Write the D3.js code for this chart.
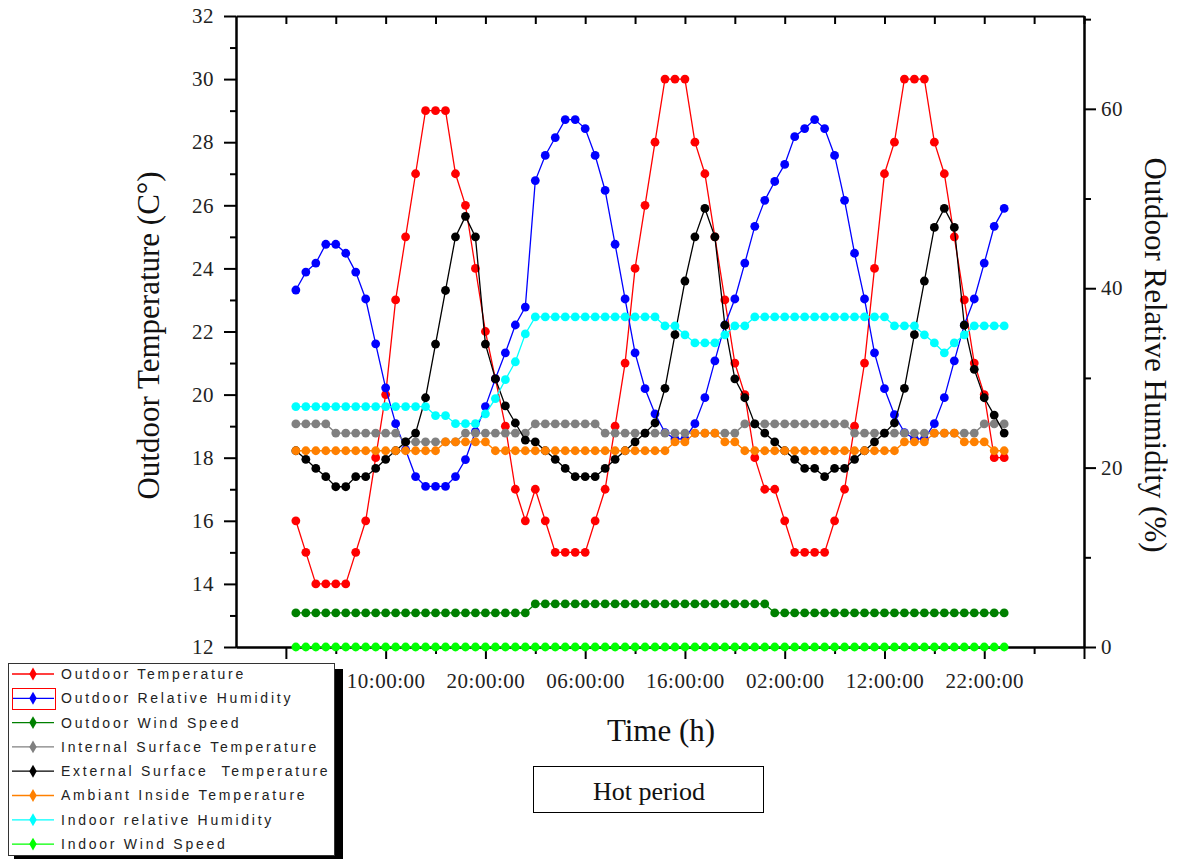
<!DOCTYPE html>
<html>
<head>
<meta charset="utf-8">
<script src="https://cdnjs.cloudflare.com/ajax/libs/d3/7.8.5/d3.min.js"></script>
<style>
  body { margin: 0; background: #fff; }
  .axis path, .axis line { stroke: #000; stroke-width: 2; }
  .axis text { font-family: "Liberation Serif", "Times New Roman", serif; font-size: 21px; letter-spacing: 0.5px; fill: #222; }
</style>
</head>
<body>
<svg width="1177" height="859"></svg>
<script>
// hourly readings, hour 1 .. 72
var hours = [1,2,3,4,5,6,7,8,9,10,11,12,13,14,15,16,17,18,19,20,21,22,23,24,
  25,26,27,28,29,30,31,32,33,34,35,36,37,38,39,40,41,42,43,44,45,46,47,48,
  49,50,51,52,53,54,55,56,57,58,59,60,61,62,63,64,65,66,67,68,69,70,71,72];

var outdoorTemp = [16,15,14,14,14,14,15,16,18,20,23,25,
  27,29,29,29,27,26,24,22,20.5,19,17,16,
  17,16,15,15,15,15,16,17,19,21,24,26,
  28,30,30,30,28,27,25,23,21,20,18,17,
  17,16,15,15,15,15,16,17,19,21,24,27,
  28,30,30,30,28,27,25,23,21,20,18,18];

var outdoorRH = [39.8,41.8,42.8,44.9,44.9,43.9,41.8,38.8,33.8,28.9,24.9,22.0,
  19.0,17.9,17.9,17.9,19.0,20.9,24.0,26.8,29.9,32.8,35.9,37.9,
  52.0,54.8,56.8,58.8,58.8,57.8,54.8,50.9,44.9,38.8,32.8,28.8,
  26.0,23.9,23.2,23.2,24.9,27.8,31.9,35.9,38.8,42.8,46.9,49.8,
  51.9,53.8,56.9,57.8,58.8,57.8,54.8,49.8,43.9,38.8,32.8,28.8,
  25.9,23.9,23.2,23.2,24.9,27.8,31.9,35.9,38.8,42.8,46.9,48.9];

var outdoorWind = [3.8,3.8,3.8,3.8,3.8,3.8,3.8,3.8,3.8,3.8,3.8,3.8,
  3.8,3.8,3.8,3.8,3.8,3.8,3.8,3.8,3.8,3.8,3.8,3.8,
  4.8,4.8,4.8,4.8,4.8,4.8,4.8,4.8,4.8,4.8,4.8,4.8,
  4.8,4.8,4.8,4.8,4.8,4.8,4.8,4.8,4.8,4.8,4.8,4.8,
  3.8,3.8,3.8,3.8,3.8,3.8,3.8,3.8,3.8,3.8,3.8,3.8,
  3.8,3.8,3.8,3.8,3.8,3.8,3.8,3.8,3.8,3.8,3.8,3.8];

var internalSurf = [19.07,19.07,19.07,19.07,18.78,18.78,18.78,18.78,18.78,18.78,18.78,18.5,
  18.5,18.5,18.5,18.5,18.5,18.78,18.78,18.78,18.78,18.78,18.78,18.78,
  19.07,19.07,19.07,19.07,19.07,19.07,19.07,18.78,18.78,18.78,18.78,18.78,
  18.78,18.78,18.78,18.78,18.78,18.78,18.78,18.78,18.78,19.07,19.07,19.07,
  19.07,19.07,19.07,19.07,19.07,19.07,19.07,19.07,18.78,18.78,18.78,18.78,
  18.78,18.78,18.78,18.78,18.78,18.78,18.78,18.78,18.78,19.07,19.07,19.07];

var externalSurf = [18.22,17.95,17.66,17.4,17.08,17.08,17.4,17.4,17.66,17.95,18.22,18.5,
  18.78,19.9,21.6,23.3,25.0,25.65,25.0,21.6,20.5,19.64,19.1,18.56,
  18.5,18.22,17.95,17.66,17.4,17.4,17.4,17.66,17.95,18.22,18.5,18.78,
  19.1,20.2,21.9,23.6,25.0,25.9,25.0,22.2,20.5,19.9,19.07,18.78,
  18.5,18.22,17.95,17.66,17.66,17.4,17.66,17.66,17.95,18.22,18.5,18.78,
  19.1,20.2,21.9,23.6,25.3,25.9,25.3,22.2,20.8,19.9,19.35,18.78];

var ambientInside = [18.22,18.22,18.22,18.22,18.22,18.22,18.22,18.22,18.22,18.22,18.22,18.22,
  18.22,18.22,18.22,18.5,18.5,18.5,18.5,18.5,18.22,18.22,18.22,18.22,
  18.22,18.22,18.22,18.22,18.22,18.22,18.22,18.22,18.22,18.22,18.22,18.22,
  18.22,18.22,18.5,18.5,18.78,18.78,18.78,18.5,18.5,18.22,18.22,18.22,
  18.22,18.22,18.22,18.22,18.22,18.22,18.22,18.22,18.22,18.22,18.22,18.22,
  18.22,18.5,18.5,18.5,18.78,18.78,18.78,18.5,18.5,18.5,18.22,18.22];

var indoorRH = [26.8,26.8,26.8,26.8,26.8,26.8,26.8,26.8,26.8,26.8,26.8,26.8,
  26.8,26.8,25.8,25.8,24.9,24.9,24.9,26.0,27.7,29.8,31.8,34.9,
  36.8,36.8,36.8,36.8,36.8,36.8,36.8,36.8,36.8,36.8,36.8,36.8,
  36.8,35.8,35.8,34.8,33.9,33.9,33.9,34.8,35.8,35.8,36.8,36.8,
  36.8,36.8,36.8,36.8,36.8,36.8,36.8,36.8,36.8,36.8,36.8,36.8,
  35.8,35.8,35.8,34.8,33.9,32.8,33.9,34.8,35.8,35.8,35.8,35.8];

var indoorWind = [0,0,0,0,0,0,0,0,0,0,0,0, 0,0,0,0,0,0,0,0,0,0,0,0,
  0,0,0,0,0,0,0,0,0,0,0,0, 0,0,0,0,0,0,0,0,0,0,0,0,
  0,0,0,0,0,0,0,0,0,0,0,0, 0,0,0,0,0,0,0,0,0,0,0,0];

var names = ["Outdoor Temperature", "Outdoor Relative Humidity", "Outdoor Wind Speed",
  "Internal Surface Temperature", "External Surface  Temperature", "Ambiant Inside Temperature",
  "Indoor relative Humidity", "Indoor Wind Speed"];
var colors = ["#ff0000", "#0000ff", "#008000", "#808080", "#000000", "#ff8000", "#00ffff", "#00ff00"];
var valueLists = [outdoorTemp, outdoorRH, outdoorWind, internalSurf, externalSurf, ambientInside, indoorRH, indoorWind];
var sides = ["left", "right", "right", "left", "left", "left", "right", "right"];

var leftTicks = [12,14,16,18,20,22,24,26,28,30,32];
var rightTicks = [0,20,40,60];
var timeTicks = [0,10,20,30,40,50,60,70,80];

var svg = d3.select("svg"),
    margin = {top: 16, right: 93, bottom: 212, left: 236},
    width = +svg.attr("width") - margin.left - margin.right,
    height = +svg.attr("height") - margin.top - margin.bottom,
    g = svg.append("g").attr("transform", "translate(" + margin.left + "," + margin.top + ")");

var x = d3.scaleLinear().domain([-5, 80]).range([0, width]);
var yL = d3.scaleLinear().domain([12, 32]).range([height, 0]);
var yR = d3.scaleLinear().domain([0, 70.35]).range([height, 0]);

function timeLabel(h) {
  if (h >= 80) return "";
  return d3.format("02")(h % 24) + ":00:00";
}
var minorTime = timeTicks.slice(0, -1).map(function(d) { return d + 5; });

// bottom axis
g.append("g").attr("class", "axis").attr("transform", "translate(0," + height + ")")
  .call(d3.axisBottom(x).tickValues(minorTime).tickSize(7).tickSizeOuter(0).tickFormat(""));
g.append("g").attr("class", "axis").attr("transform", "translate(0," + height + ")")
  .call(d3.axisBottom(x).tickValues(timeTicks).tickSize(12).tickSizeOuter(0).tickPadding(14).tickFormat(timeLabel));
// top axis, ticks inside
g.append("g").attr("class", "axis")
  .call(d3.axisTop(x).tickValues(timeTicks.concat(minorTime)).tickSize(-8).tickSizeOuter(0).tickFormat(""));
// left axis
g.append("g").attr("class", "axis")
  .call(d3.axisLeft(yL).tickValues(leftTicks.slice(0, -1).map(function(d) { return d + 1; })).tickSize(6).tickSizeOuter(0).tickFormat(""));
g.append("g").attr("class", "axis")
  .call(d3.axisLeft(yL).tickValues(leftTicks).tickSize(12).tickSizeOuter(0).tickPadding(10));
// right axis
g.append("g").attr("class", "axis").attr("transform", "translate(" + width + ",0)")
  .call(d3.axisRight(yR).tickValues([10,30,50,70]).tickSize(7).tickSizeOuter(0).tickFormat(""));
g.append("g").attr("class", "axis").attr("transform", "translate(" + width + ",0)")
  .call(d3.axisRight(yR).tickValues(rightTicks).tickSize(12).tickSizeOuter(0).tickPadding(5));

// series
valueLists.forEach(function(vals, i) {
  var yy = sides[i] == "left" ? yL : yR;
  var pts = hours.map(function(h, k) { return [h, vals[k]]; });
  var s = g.append("g");
  s.append("path")
    .datum(pts)
    .attr("fill", "none")
    .attr("stroke", colors[i])
    .attr("stroke-width", 1.3)
    .attr("d", d3.line().x(function(d) { return x(d[0]); }).y(function(d) { return yy(d[1]); }));
  s.selectAll("circle")
    .data(pts)
    .enter().append("circle")
      .attr("cx", function(d) { return x(d[0]); })
      .attr("cy", function(d) { return yy(d[1]); })
      .attr("r", 4.4)
      .attr("fill", colors[i]);
});

// axis titles
svg.append("text")
  .attr("transform", "translate(159," + (margin.top + height / 2 + 4) + ") rotate(-90)")
  .style("text-anchor", "middle")
  .style("font-family", "Liberation Serif, Times New Roman, serif")
  .style("font-size", "31px")
  .style("fill", "#111")
  .text("Outdoor Temperature (C°)");

svg.append("text")
  .attr("transform", "translate(1145," + 355 + ") rotate(90)")
  .style("text-anchor", "middle")
  .style("font-family", "Liberation Serif, Times New Roman, serif")
  .style("font-size", "31px")
  .style("fill", "#111")
  .text("Outdoor Relative Humidity (%)");

svg.append("text")
  .attr("x", 661).attr("y", 741)
  .style("text-anchor", "middle")
  .style("font-family", "Liberation Serif, Times New Roman, serif")
  .style("font-size", "31px")
  .style("fill", "#111")
  .text("Time (h)");

// caption box
svg.append("rect")
  .attr("x", 533.5).attr("y", 766.5).attr("width", 230).attr("height", 46)
  .attr("fill", "#fff").attr("stroke", "#000").attr("stroke-width", 1);
svg.append("text")
  .attr("x", 649).attr("y", 800)
  .style("text-anchor", "middle")
  .style("font-family", "Liberation Serif, Times New Roman, serif")
  .style("font-size", "26px")
  .style("fill", "#111")
  .text("Hot period");

// legend
var lg = svg.append("g");
lg.append("rect").attr("x", 14).attr("y", 669).attr("width", 329).attr("height", 195).attr("fill", "#000");
lg.append("rect").attr("x", 8.5).attr("y", 663.5).attr("width", 326).attr("height", 192)
  .attr("fill", "#fff").attr("stroke", "#333").attr("stroke-width", 1);

var item = lg.selectAll("g.item")
  .data(names)
  .enter().append("g")
    .attr("class", "item")
    .attr("transform", function(d, i) { return "translate(0," + (674 + i * 24.3) + ")"; });

item.append("line")
  .attr("x1", 12).attr("x2", 54)
  .attr("stroke", function(d, i) { return colors[i]; })
  .attr("stroke-width", 1.3);
item.append("path")
  .attr("d", d3.symbol().type(d3.symbolDiamond).size(48))
  .attr("transform", "translate(33,0)")
  .attr("fill", function(d, i) { return colors[i]; });
item.append("text")
  .attr("x", 61).attr("dy", "0.35em")
  .style("font-family", "Liberation Sans, Arial, sans-serif")
  .style("font-size", "14px")
  .style("letter-spacing", "2.75px")
  .style("white-space", "pre")
  .style("fill", "#222")
  .text(function(d) { return d; });

// selection frame around the second legend sample
lg.append("rect").attr("x", 12.5).attr("y", 688.5).attr("width", 43).attr("height", 21)
  .attr("fill", "none").attr("stroke", "#ff0000").attr("stroke-width", 1);
</script>
</body>
</html>
